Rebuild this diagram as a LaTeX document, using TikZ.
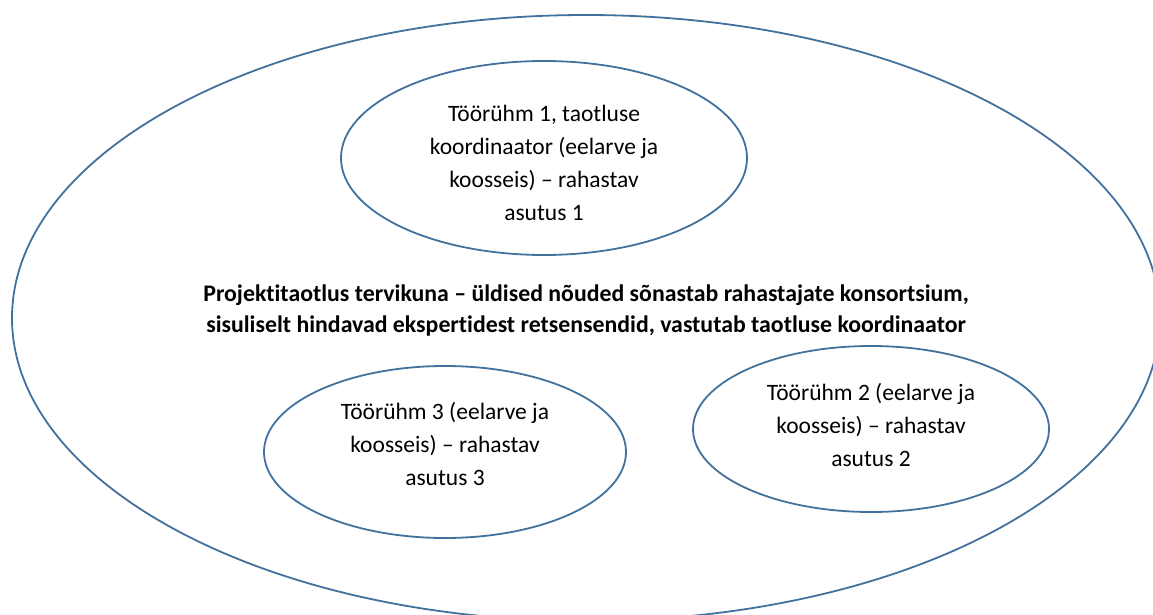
\documentclass[tikz,border=0pt]{standalone}
\usepackage{fontspec}
\setmainfont{Carlito}[Ligatures=NoCommon]
\usetikzlibrary{shapes.geometric}
\definecolor{rimblue}{RGB}{65,113,156}
\begin{document}
\begin{tikzpicture}[x=1pt,y=-1pt,
    group/.style={draw=rimblue,line width=1.8pt,ellipse,inner sep=0pt,align=center,
      font=\fontsize{23.5}{33}\selectfont},
    whole/.style={group,font=\bfseries\fontsize{23.8}{31}\selectfont}]
  \useasboundingbox (0,0) rectangle (1153,615);
  \clip (0,0) rectangle (1153,615);
  \node[whole,minimum width=1148pt,minimum height=606pt,text depth=18pt] (proj) at (586,318)
    {Projektitaotlus tervikuna -- üldised nõuded sõnastab rahastajate konsortsium,\\
     sisuliselt hindavad ekspertidest retsensendid, vastutab taotluse koordinaator};
  \node[group,minimum width=406pt,minimum height=194pt,text height=125pt] (grp1) at (544,158)
    {Töörühm 1, taotluse\\koordinaator (eelarve ja\\koosseis) -- rahastav\\asutus 1};
  \node[group,minimum width=356pt,minimum height=166pt,text depth=9pt] (grp2) at (871,429)
    {Töörühm 2 (eelarve ja\\koosseis) -- rahastav\\asutus 2};
  \node[group,minimum width=362pt,minimum height=172pt,text depth=16pt] (grp3) at (445,452)
    {Töörühm 3 (eelarve ja\\koosseis) -- rahastav\\asutus 3};
\end{tikzpicture}
\end{document}
